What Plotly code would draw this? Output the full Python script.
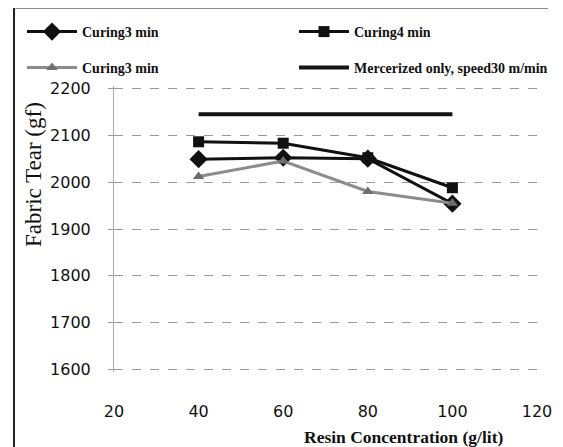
import plotly.graph_objects as go

resin = [40, 60, 80, 100]
curing3_a = [2049, 2052, 2050, 1954]
curing4 = [2086, 2083, 2052, 1988]
curing3_b = [2012, 2045, 1980, 1955]
mercerized = [2145, 2145, 2145, 2145]

x_ticks = [20, 40, 60, 80, 100, 120]
y_ticks = [1600, 1700, 1800, 1900, 2000, 2100, 2200]

W, H = 555, 439  # page body adds an 8px offset in the 563x447 window

fig = go.Figure()
fig.add_trace(go.Scatter(x=resin, y=curing3_a, name="Curing3 min", mode="lines+markers",
                         line=dict(color="#111111", width=3),
                         marker=dict(symbol="diamond", size=14, color="#111111"),
                         legend="legend"))
fig.add_trace(go.Scatter(x=resin, y=curing4, name="Curing4 min", mode="lines+markers",
                         line=dict(color="#111111", width=3),
                         marker=dict(symbol="square", size=11, color="#111111"),
                         legend="legend2"))
fig.add_trace(go.Scatter(x=resin, y=curing3_b, name="Curing3 min", mode="lines+markers",
                         line=dict(color="#8c8c8c", width=3),
                         marker=dict(symbol="triangle-up", size=10, color="#6e6e6e"),
                         legend="legend3"))
fig.add_trace(go.Scatter(x=resin, y=mercerized, name="Mercerized only, speed30 m/min",
                         mode="lines", line=dict(color="#151515", width=4),
                         legend="legend4"))


def leg(xpx, ypx):
    return dict(orientation="h", xref="container", yref="container",
                x=xpx / W, y=1 - ypx / H, xanchor="left", yanchor="middle",
                bgcolor="rgba(0,0,0,0)", borderwidth=0, itemwidth=50,
                font=dict(family="Liberation Serif", size=14, color="#111", weight="bold"))


def px(xf):
    return (xf - 106) / 423


def py(yf):
    return (361.4 - yf) / 280.8


fig.update_layout(
    width=W, height=H,
    margin=dict(l=106, r=26, t=78, b=75, autoexpand=False),
    paper_bgcolor="white", plot_bgcolor="white",
    showlegend=True,
    legend=leg(14, 24),
    legend2=leg(286, 24),
    legend3=leg(14, 60),
    legend4=leg(286, 60),
    xaxis=dict(range=[20, 120], tickvals=x_ticks, showgrid=False, zeroline=False,
               showline=False, ticks="", ticklabelstandoff=28,
               tickfont=dict(family="DejaVu Sans", size=16, color="#111")),
    yaxis=dict(range=[1595, 2205], tickvals=y_ticks, showgrid=True,
               gridcolor="#9a9a9a", griddash="dash", gridwidth=1,
               zeroline=False, showline=True, linecolor="#aaaaaa", linewidth=1,
               ticks="outside", ticklen=5, tickcolor="#9a9a9a", ticklabelstandoff=14,
               tickfont=dict(family="DejaVu Sans", size=16, color="#111")),
    annotations=[
        dict(text="Fabric Tear (gf)", xref="paper", yref="paper",
             x=px(25), y=py(168), xanchor="center", yanchor="middle",
             textangle=-90, showarrow=False,
             font=dict(family="Liberation Serif", size=23, color="#111")),
        dict(text="<b>Resin Concentration (g/lit)</b>", xref="paper", yref="paper",
             x=px(395), y=py(425), xanchor="center", yanchor="middle", showarrow=False,
             font=dict(family="Liberation Serif", size=17.5, color="#111")),
    ],
    shapes=[
        dict(type="line", xref="paper", yref="paper", x0=px(6), x1=px(6),
             y0=py(3), y1=py(440), line=dict(color="#222", width=2)),
        dict(type="line", xref="paper", yref="paper", x0=px(6), x1=px(540),
             y0=py(4), y1=py(4), line=dict(color="#666", width=1.5)),
        dict(type="line", xref="paper", yref="paper", x0=px(550), x1=px(550),
             y0=py(4), y1=py(440), line=dict(color="#777", width=1.5)),
    ],
)

fig.write_html("out.html")
